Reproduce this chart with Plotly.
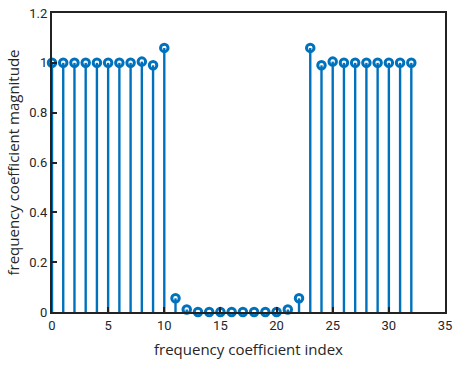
import plotly.graph_objects as go

index = list(range(33))
magnitude = [1.0, 1.0, 1.0, 1.0, 1.0, 1.0, 1.0, 1.0, 1.005, 0.99, 1.06,
             0.055, 0.01, 0.0, 0.0, 0.0, 0.0, 0.0, 0.0, 0.0, 0.0, 0.01, 0.055,
             1.06, 0.99, 1.005, 1.0, 1.0, 1.0, 1.0, 1.0, 1.0, 1.0]
x_ticks = [0, 5, 10, 15, 20, 25, 30, 35]
y_ticks = [0, 0.2, 0.4, 0.6, 0.8, 1.0, 1.2]
y_tick_labels = ["0", "0.2", "0.4", "0.6", "0.8", "1", "1.2"]

color = "#0072BD"
font = "Liberation Sans Narrow, Roboto, sans-serif"

sx, sy = [], []
for xi, yi in zip(index, magnitude):
    sx += [xi, xi, None]
    sy += [0, yi, None]

fig = go.Figure()
fig.add_trace(go.Scatter(x=sx, y=sy, mode="lines", cliponaxis=False,
                         line=dict(color=color, width=2.4), hoverinfo="skip"))
fig.add_trace(go.Scatter(x=index, y=magnitude, mode="markers", cliponaxis=False,
                         marker=dict(symbol="circle-open", size=7.5, color=color,
                                     line=dict(color=color, width=3))))

axis_common = dict(showgrid=False, zeroline=False, showline=True, linecolor="#222222",
                   linewidth=2.2, mirror=True, ticks="inside", ticklen=5,
                   tickwidth=2, tickcolor="#222222", ticklabeloverflow="allow",
                   tickfont=dict(family=font, size=13, color="#262626"))

fig.update_xaxes(range=[0, 35], tickvals=x_ticks,
                 title=dict(text="frequency coefficient index",
                            font=dict(family="Open Sans, sans-serif", size=15, color="#262626"),
                            standoff=13),
                 **axis_common)
fig.update_yaxes(range=[0, 1.2], tickvals=y_ticks, ticktext=y_tick_labels,
                 title=dict(text="frequency coefficient magnitude",
                            font=dict(family="Open Sans, sans-serif", size=15, color="#262626"),
                            standoff=6),
                 **axis_common)

fig.update_layout(width=458, height=368, margin=dict(l=52, r=6, t=8, b=56),
                  plot_bgcolor="white", paper_bgcolor="white", showlegend=False)

fig.write_html("out.html")
